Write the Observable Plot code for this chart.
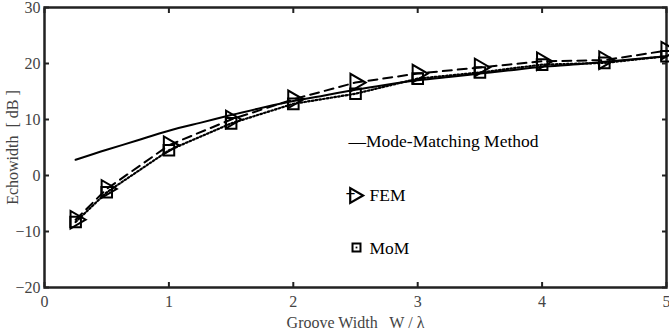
<!DOCTYPE html>
<html>
<head>
<meta charset="utf-8">
<script src="https://cdn.jsdelivr.net/npm/d3@7"></script>
<script src="https://cdn.jsdelivr.net/npm/@observablehq/plot@0.6"></script>
<style>
  html, body { margin: 0; padding: 0; background: #fff; }
  #chart svg { display: block; }
  #chart svg text { font-family: 'Liberation Serif', 'Times New Roman', serif; }
</style>
</head>
<body>
<div id="chart"></div>
<script>
// Groove width W/λ
const mmX = [0.25, 0.5, 0.75, 1, 1.25, 1.5, 1.75, 2, 2.25, 2.5, 2.75, 3, 3.25, 3.5, 3.75, 4, 4.25, 4.5, 4.75, 5];
const mmY = [2.8, 4.6, 6.3, 8.0, 9.4, 10.8, 12.1, 13.3, 14.3, 15.3, 16.2, 17.0, 17.6, 18.2, 18.8, 19.4, 19.8, 20.3, 20.8, 21.3];
const ptX = [0.25, 0.5, 1, 1.5, 2, 2.5, 3, 3.5, 4, 4.5, 5];
const femY = [-7.9, -2.4, 5.4, 10.0, 13.6, 16.6, 18.2, 19.3, 20.4, 20.6, 22.3];
const momY = [-8.3, -3.0, 4.5, 9.3, 12.8, 14.6, 17.3, 18.4, 19.8, 20.1, 21.3];
const xTicks = [0, 1, 2, 3, 4, 5];
const yTicks = [-20, -10, 0, 10, 20, 30];
const seriesNames = ["Mode-Matching Method", "FEM", "MoM"];

const mm = mmX.map((x, i) => ({x, y: mmY[i]}));
const fem = ptX.map((x, i) => ({x, y: femY[i]}));
const mom = ptX.map((x, i) => ({x, y: momY[i]}));

const font = "'Liberation Serif', 'Times New Roman', serif";
const gray = "#444";
const fmt = d3.format("d");

const chart = Plot.plot({
  width: 669,
  height: 332,
  marginLeft: 44,
  marginRight: 3,
  marginTop: 7,
  marginBottom: 45,
  style: {fontFamily: font, fontSize: "17.5px", color: gray, background: "#fff"},
  x: {domain: [0, 5]},
  y: {domain: [-20, 30]},
  marks: [
    // tick labels and titles
    Plot.axisX(xTicks, {anchor: "bottom", tickSize: 0, tickPadding: 8, fontSize: 16, fill: gray, tickFormat: fmt,
      label: "Groove Width   W / λ", labelAnchor: "center", labelArrow: "none", labelOffset: 40}),
    Plot.axisY(yTicks, {anchor: "left", tickSize: 0, tickPadding: 4, fontSize: 16, fill: gray, tickFormat: fmt,
      label: "Echowidth  [ dB ]", labelAnchor: "center", labelArrow: "none", labelOffset: 38}),
    // inward ticks on all four sides
    Plot.axisX(xTicks, {anchor: "bottom", tickSize: -5, strokeWidth: 2, stroke: "#222", tickFormat: () => "", label: null}),
    Plot.axisX(xTicks, {anchor: "top", tickSize: -5, strokeWidth: 2, stroke: "#222", tickFormat: () => "", label: null}),
    Plot.axisY(yTicks, {anchor: "left", tickSize: -5, strokeWidth: 2, stroke: "#222", tickFormat: () => "", label: null}),
    Plot.axisY(yTicks, {anchor: "right", tickSize: -5, strokeWidth: 2, stroke: "#222", tickFormat: () => "", label: null}),
    Plot.frame({stroke: "#222", strokeWidth: 2.5}),
    // series
    Plot.line(mm, {x: "x", y: "y", stroke: "#000", strokeWidth: 2, curve: "natural"}),
    Plot.line(fem, {x: "x", y: "y", stroke: "#000", strokeWidth: 2, strokeDasharray: "9,6"}),
    Plot.line(mom, {x: "x", y: "y", stroke: "#000", strokeWidth: 2.2, strokeDasharray: "1.6,2.2"}),
    Plot.dot(fem, {x: "x", y: "y", symbol: "triangle", rotate: 90, r: 6.5, stroke: "#000", strokeWidth: 2, fill: "none"}),
    Plot.dot(mom, {x: "x", y: "y", symbol: "square", r: 6, stroke: "#000", strokeWidth: 2, fill: "none"}),
    // legend
    Plot.text([seriesNames[0]], {text: d => "—" + d, frameAnchor: "top-left", dx: 304, dy: 127, textAnchor: "start", fill: "#000", fontSize: 17.5}),
    Plot.text([seriesNames[1]], {text: d => d, frameAnchor: "top-left", dx: 325, dy: 181, textAnchor: "start", fill: "#000", fontSize: 17.5}),
    Plot.text([seriesNames[2]], {text: d => d, frameAnchor: "top-left", dx: 325, dy: 234, textAnchor: "start", fill: "#000", fontSize: 17.5}),
    Plot.text([seriesNames[1]], {text: () => "–", frameAnchor: "top-left", dx: 302, dy: 179, textAnchor: "start", fill: "#000", fontSize: 16, fontWeight: "bold"}),
    Plot.dot([seriesNames[1]], {frameAnchor: "top-left", dx: 310, dy: 188, symbol: "triangle", rotate: 90, r: 5.5, stroke: "#000", strokeWidth: 2.2, fill: "none"}),
    Plot.dot([seriesNames[2]], {frameAnchor: "top-left", dx: 312, dy: 240, symbol: "square", r: 4.5, stroke: "#000", strokeWidth: 2, fill: "none"}),
    Plot.dot([seriesNames[2]], {frameAnchor: "top-left", dx: 312, dy: 240, symbol: "square", r: 1, fill: "#000"})
  ]
});
document.getElementById("chart").appendChild(chart);
</script>
</body>
</html>
